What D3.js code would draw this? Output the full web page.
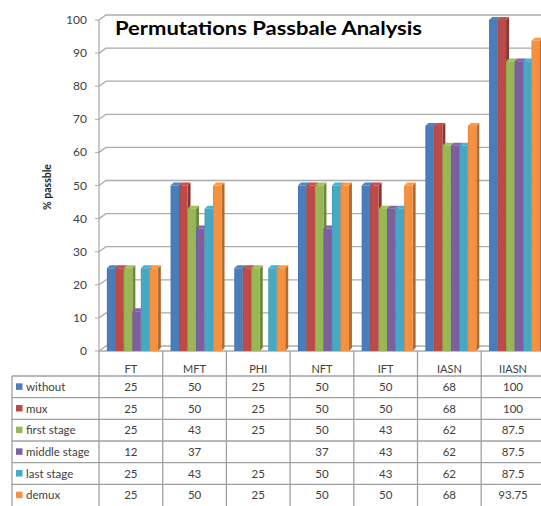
<!DOCTYPE html>
<html>
<head>
<meta charset="utf-8">
<script src="https://cdn.jsdelivr.net/npm/d3@7"></script>
<style>
  body { margin: 0; background: #fff; }
  text { font-family: Lato, "Liberation Sans", sans-serif; }
</style>
</head>
<body>
<script>
// chart data
const categories = ["FT", "MFT", "PHI", "NFT", "IFT", "IASN", "IIASN"];
const seriesNames = ["without", "mux", "first stage", "middle stage", "last stage", "demux"];
const without = [25, 50, 25, 50, 50, 68, 100];
const mux = [25, 50, 25, 50, 50, 68, 100];
const firstStage = [25, 43, 25, 50, 43, 62, 87.5];
const middleStage = [12, 37, null, 37, 43, 62, 87.5];
const lastStage = [25, 43, 25, 50, 43, 62, 87.5];
const demux = [25, 50, 25, 50, 50, 68, 93.75];
const yTicks = [0, 10, 20, 30, 40, 50, 60, 70, 80, 90, 100];
const colors = ["#4A7EBB", "#BE4B48", "#98B954", "#7D60A0", "#46AAC5", "#F69240"];

const seriesValues = [without, mux, firstStage, middleStage, lastStage, demux];

const W = 541, H = 506;
const left = 99, step = 63.7;
const wallDx = 7, wallDy = 5;   // depth of the walls
const barD = 3;                 // depth of the bars

const svg = d3.select("body").append("svg")
    .attr("width", W)
    .attr("height", H);

// scales
const x0 = d3.scaleBand()
    .domain(categories)
    .range([left, left + step * categories.length]);

const x1 = d3.scaleBand()
    .domain(seriesNames)
    .range([0, x0.bandwidth()])
    .paddingOuter(0.75);

const y = d3.scaleLinear()
    .domain([0, 100])
    .range([351, 20]);

const rowY = d3.scaleBand()
    .domain(seriesNames)
    .range([376, 506]);

// gradients for bar fronts (subtle)
const defs = svg.append("defs");
colors.forEach((c, i) => {
    const g = defs.append("linearGradient")
        .attr("id", "grad" + i)
        .attr("x1", "0%").attr("x2", "100%");
    g.append("stop").attr("offset", "0%").attr("stop-color", d3.color(c).darker(0.3));
    g.append("stop").attr("offset", "18%").attr("stop-color", c);
    g.append("stop").attr("offset", "100%").attr("stop-color", d3.color(c).darker(0.05));
});

// gridlines on back and side walls
const gridColor = "#ababab";
svg.append("g").selectAll("path")
    .data(yTicks)
    .join("path")
    .attr("d", d => `M${left},${y(d)}L${left + wallDx},${y(d) - wallDy}L${W},${y(d) - wallDy}`)
    .attr("fill", "none")
    .attr("stroke", gridColor)
    .attr("stroke-width", 1.3);

// floor front edge
svg.append("line")
    .attr("x1", left).attr("x2", W)
    .attr("y1", y(0)).attr("y2", y(0))
    .attr("stroke", gridColor)
    .attr("stroke-width", 1.3);

// left axis line + ticks
svg.append("line")
    .attr("x1", left).attr("x2", left)
    .attr("y1", y(100)).attr("y2", y(0))
    .attr("stroke", gridColor)
    .attr("stroke-width", 1.3);

svg.append("g").selectAll("line")
    .data(yTicks)
    .join("line")
    .attr("x1", left - 4).attr("x2", left)
    .attr("y1", d => y(d)).attr("y2", d => y(d))
    .attr("stroke", gridColor);

svg.append("g").selectAll("text")
    .data(yTicks)
    .join("text")
    .attr("x", 87)
    .attr("y", d => y(d) + 4)
    .attr("text-anchor", "end")
    .attr("font-size", 12)
    .attr("fill", "#404040")
    .text(d => d);

// bars
const bars = [];
categories.forEach((cat, ci) => {
    seriesNames.forEach((s, si) => {
        const v = seriesValues[si][ci];
        if (v != null) bars.push({ cat, s, si, v });
    });
});

const barG = svg.append("g").selectAll("g")
    .data(bars)
    .join("g");

barG.each(function(d) {
    const g = d3.select(this);
    const bx = x0(d.cat) + x1(d.s) + 1.5;
    const bw = x1.bandwidth();
    const by = y(d.v);
    const b0 = y(0);
    const c = colors[d.si];

    // side face
    g.append("path")
        .attr("d", `M${bx + bw},${by}L${bx + bw + barD},${by - barD}L${bx + bw + barD},${b0 - barD}L${bx + bw},${b0}Z`)
        .attr("fill", d3.color(c).darker(0.9));
    // top face
    g.append("path")
        .attr("d", `M${bx},${by}L${bx + barD},${by - barD}L${bx + bw + barD},${by - barD}L${bx + bw},${by}Z`)
        .attr("fill", d3.color(c).brighter(0.15));
    // front
    g.append("rect")
        .attr("x", bx)
        .attr("y", by)
        .attr("width", bw)
        .attr("height", b0 - by)
        .attr("fill", `url(#grad${d.si})`);
});

// title
svg.append("text")
    .attr("x", 115)
    .attr("y", 35)
    .attr("font-size", 19)
    .attr("font-weight", "bold")
    .attr("fill", "#000")
    .attr("textLength", 307)
    .attr("lengthAdjust", "spacingAndGlyphs")
    .text("Permutations Passbale Analysis");

// y axis title
svg.append("text")
    .attr("transform", "translate(51,187) rotate(-90)")
    .attr("text-anchor", "middle")
    .attr("font-size", 10.5)
    .attr("font-weight", "bold")
    .attr("fill", "#222")
    .text("% passble");

// data table
const tableColor = "#a0a0a0";
const tbl = svg.append("g");

// column dividers
tbl.selectAll("line.col")
    .data(categories.concat(["end"]))
    .join("line")
    .attr("class", "col")
    .attr("x1", (d, i) => left + i * step)
    .attr("x2", (d, i) => left + i * step)
    .attr("y1", y(0))
    .attr("y2", H)
    .attr("stroke", tableColor)
    .attr("stroke-width", 1.3);

// legend column left border
tbl.append("line")
    .attr("x1", 12).attr("x2", 12)
    .attr("y1", rowY.range()[0]).attr("y2", H)
    .attr("stroke", tableColor)
    .attr("stroke-width", 1.3);

// row lines
tbl.selectAll("line.row")
    .data(seriesNames)
    .join("line")
    .attr("class", "row")
    .attr("x1", 12).attr("x2", W)
    .attr("y1", d => rowY(d)).attr("y2", d => rowY(d))
    .attr("stroke", tableColor)
    .attr("stroke-width", 1.3);

// header labels
tbl.selectAll("text.head")
    .data(categories)
    .join("text")
    .attr("class", "head")
    .attr("x", d => x0(d) + x0.bandwidth() / 2)
    .attr("y", 373)
    .attr("text-anchor", "middle")
    .attr("font-size", 11)
    .attr("fill", "#404040")
    .text(d => d);

// legend keys + names
const rows = tbl.selectAll("g.rowg")
    .data(seriesNames)
    .join("g")
    .attr("class", "rowg");

rows.append("rect")
    .attr("x", 16)
    .attr("y", d => rowY(d) + rowY.bandwidth() / 2 - 3.5)
    .attr("width", 6.5)
    .attr("height", 6.5)
    .attr("fill", (d, i) => colors[i]);

rows.append("text")
    .attr("x", 26)
    .attr("y", d => rowY(d) + rowY.bandwidth() / 2 + 4)
    .attr("font-size", 11.5)
    .attr("fill", "#404040")
    .text(d => d);

// values
rows.each(function(s, si) {
    d3.select(this).selectAll("text.val")
        .data(seriesValues[si])
        .join("text")
        .attr("class", "val")
        .attr("x", (v, ci) => x0(categories[ci]) + x0.bandwidth() / 2)
        .attr("y", rowY(s) + rowY.bandwidth() / 2 + 4)
        .attr("text-anchor", "middle")
        .attr("font-size", 11.5)
        .attr("fill", "#404040")
        .text(v => v == null ? "" : v);
});
</script>
</body>
</html>
